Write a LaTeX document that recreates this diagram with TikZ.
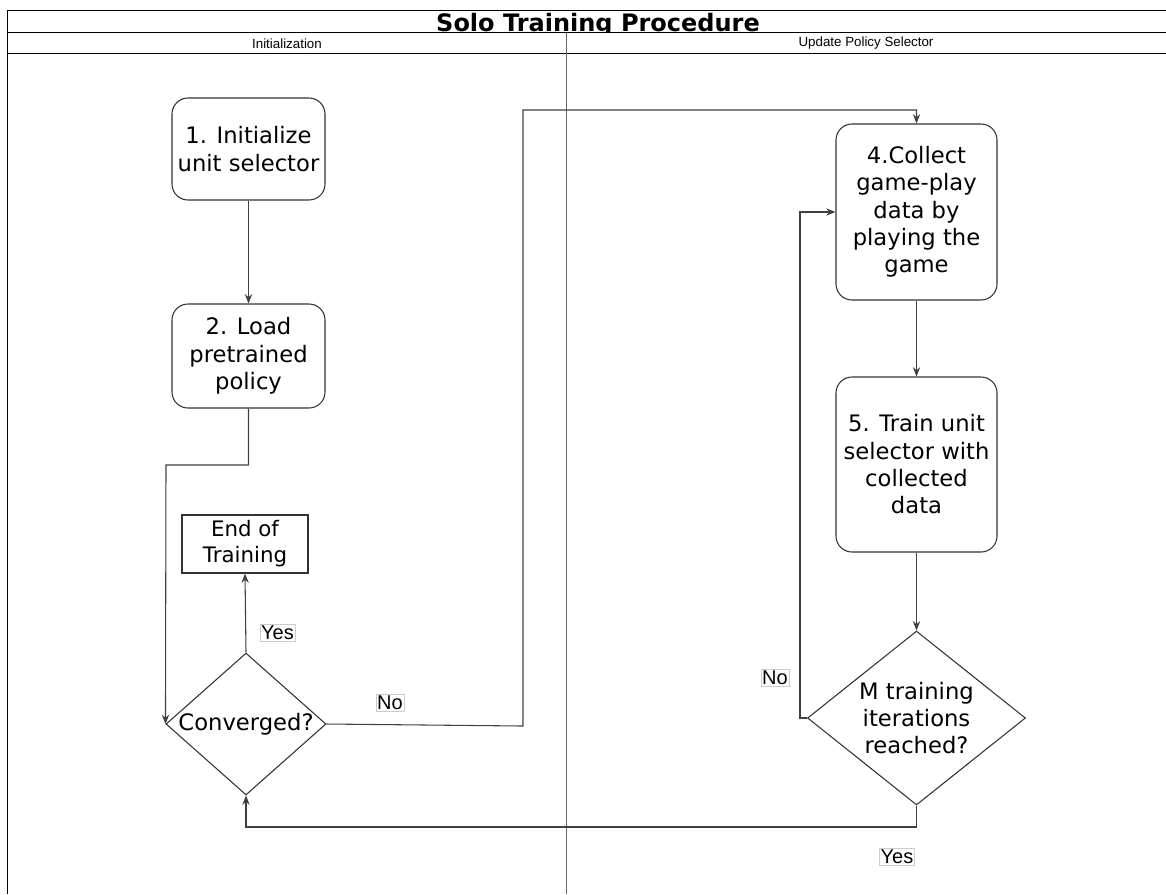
\documentclass[tikz,border=0pt]{standalone}
\usepackage{fontspec}
\setmainfont{DejaVu Sans}
\newfontfamily\labfont{Liberation Sans}
\usetikzlibrary{arrows.meta,shapes.geometric}
\begin{document}
\begin{tikzpicture}[x=0.75pt,y=-0.75pt,
  frame/.style={line width=0.9pt,draw=black},
  lane/.style={line width=0.9pt,draw=black!60},
  procbox/.style={draw=black!80,line width=0.8pt,rounded corners=12pt,align=center,
     font=\fontsize{17}{20.5}\selectfont,inner sep=0pt},
  endbox/.style={draw=black!80,line width=0.8pt,align=center,
     font=\fontsize{16}{19.5}\selectfont,inner sep=0pt},
  decision/.style={draw=black!80,line width=0.8pt,diamond,align=center,
     font=\fontsize{17}{20.5}\selectfont,inner sep=0pt},
  conn/.style={draw=black!75,line width=0.8pt,-{Stealth[length=7pt,width=5.5pt]}},
  elabel/.style={draw=black!20,line width=0.5pt,fill=white,inner sep=1pt,
     font=\labfont\fontsize{15}{16}\selectfont},
  hdr/.style={font=\labfont\fontsize{10}{11}\selectfont}
]
\useasboundingbox (0,0) rectangle (1166,894);
% title (descender hidden by the lane header row)
\node[font=\bfseries\fontsize{18}{20}\selectfont,anchor=base] (title) at (598,31) {Solo Training Procedure};
\fill[white] (7.3,32.9) rectangle (1166,53.3);
% swimlane frame
\draw[frame] (1166,10.7) -- (7.3,10.7) -- (7.3,894);
\draw[frame] (7.3,32.5) -- (1166,32.5);
\draw[frame] (7.3,53.7) -- (1166,53.7);
\draw[lane] (566.7,32.5) -- (566.7,894);
\node[hdr] (lane1) at (287,43.5) {Initialization};
\node[hdr] (lane2) at (866,43.5) {Update Policy Selector};
% nodes
\node[procbox,minimum width=153*0.75pt,minimum height=102*0.75pt] (n1) at (248.5,149) {1. Initialize\\unit selector};
\node[procbox,minimum width=153*0.75pt,minimum height=104*0.75pt] (n2) at (248.5,356) {2. Load\\pretrained\\policy};
\node[endbox,minimum width=126*0.75pt,minimum height=58*0.75pt] (end) at (245,544) {End of\\Training};
\node[decision,minimum width=160*0.75pt,minimum height=142*0.75pt,aspect=1.13] (conv) at (246,724) {Converged?};
\node[procbox,minimum width=161*0.75pt,minimum height=176*0.75pt] (n4) at (916.5,212) {4.Collect\\game-play\\data by\\playing the\\game};
\node[procbox,minimum width=161*0.75pt,minimum height=175*0.75pt] (n5) at (916.5,464.5) {5. Train unit\\selector with\\collected\\data};
\node[decision,minimum width=218*0.75pt,minimum height=174*0.75pt,aspect=1.25] (mdec) at (916.5,718) {M training\\iterations\\reached?};
% connectors
\coordinate (c2a) at (248.5,465);
\coordinate (c2b) at (166,465);
\coordinate (cNa) at (523,726);
\coordinate (cNb) at (523,110);
\coordinate (cMa) at (800,718);
\coordinate (cMb) at (800,212);
\coordinate (cYa) at (916.5,827);
\coordinate (cYb) at (246,827);
\draw[conn] (n1.south) -- (n2.north);
\draw[conn] (n2.south) -- (c2a) -- (c2b) -- (conv.west);
\draw[conn] (conv.north) -- (end.south);
\draw[conn] (conv.east) -- (cNa) -- (cNb) -| (n4.north);
\draw[conn] (n4.south) -- (n5.north);
\draw[conn] (n5.south) -- (mdec.north);
\draw[conn] (mdec.west) -- (cMa) -- (cMb) -- (n4.west);
\draw[conn] (mdec.south) -- (cYa) -- (cYb) -- (conv.south);
% labels
\node[elabel] (lyes1) at (277.5,633) {Yes};
\node[elabel] (lno1) at (390,703) {No};
\node[elabel] (lno2) at (775,678) {No};
\node[elabel] (lyes2) at (897,857) {Yes};
\end{tikzpicture}
\end{document}
